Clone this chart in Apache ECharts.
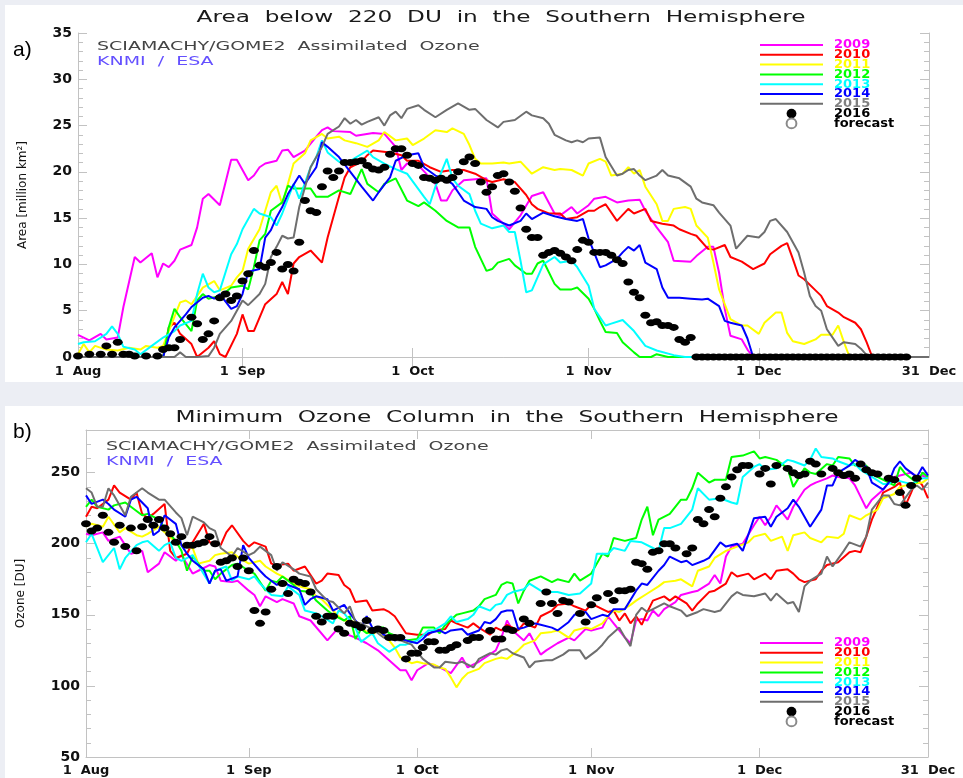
<!DOCTYPE html>
<html>
<head>
<meta charset="utf-8">
<title>Ozone hole 2016</title>
<script src="https://cdn.jsdelivr.net/npm/echarts@6/dist/echarts.min.js"></script>
<style>
html, body { margin: 0; padding: 0; background: #eceef4; }
#chart { width: 963px; height: 778px; }
</style>
</head>
<body>
<div id="chart"></div>
<script>
// x values are days counted from 1 Aug (0 = 1 Aug, 152 = 31 Dec)
var tickDays = [2, 31, 61, 92, 122, 152];
var tickLabels = ['1  Aug', '1  Sep', '1  Oct', '1  Nov', '1  Dec', '31  Dec'];
var monthTicks = [31, 61, 92, 122];
var years = ['2009', '2010', '2011', '2012', '2013', '2014', '2015'];

// a) area below 220 DU, million km2
var area2009 = [[2,2.4],[4,1.8],[6,2.5],[7,1.9],[9,2.1],[10,5.4],[12,10.8],[13,10.2],[15,11.2],[16,8.6],[17,10.1],[18,9.7],[19,10.4],[20,11.6],[22,12.1],[23,14],[24,17.1],[25,17.6],[27,16.4],[29,21.3],[30,21.3],[32,19.1],[33,19.6],[34,20.5],[35,20.9],[37,21.2],[38,22.3],[39,22.4],[40,21.6],[42,22.3],[44,23.8],[45,24.5],[46,24.8],[47,24.4],[50,24.3],[51,23.9],[54,24.2],[56,24.1],[58,22.7],[59,20.2],[60,20.9],[62,20.7],[64,19.4],[65,18.7],[66,16.9],[67,16.9],[68,18],[70,19.1],[74,19.3],[75,15.5],[77,14.4],[78,13.8],[80,15.3],[82,17.4],[84,17.8],[86,15.5],[87,15.3],[89,16.2],[90,15.5],[92,16.4],[93,17.1],[95,17.3],[97,16.7],[99,16.9],[101,17],[102,15.8],[104,14],[106,12.4],[107,10.4],[110,10.3],[111,10.9],[113,11.9],[114,11.9],[115,9.1],[116,5.2],[117,2.3],[119,1.9],[120,0.8],[121,0],[152,0]];
var area2010 = [[2,0],[17,0],[18,3.2],[19,3.7],[20,2.5],[22,1.4],[23,0],[25,1],[26,1.7],[27,0.3],[28,0],[30,2.5],[31,4.6],[32,2.8],[33,2.8],[35,5.7],[37,6.8],[38,8.1],[39,6.8],[40,10.1],[41,10.8],[43,11.5],[45,10.2],[46,12.9],[48,17.3],[49,19.4],[50,20.5],[52,21.1],[53,21.8],[54,22.3],[57,22.1],[59,21.8],[60,21.2],[62,21.2],[64,20.5],[66,20],[68,20.2],[70,20.2],[72,19.8],[74,19.1],[75,18.9],[77,19.2],[79,18.9],[81,17.5],[82,16.5],[83,16],[85,15.5],[87,15.5],[88,14.9],[90,15.1],[92,15.8],[93,15.8],[94,16.2],[95,16.5],[97,14.7],[99,16],[100,15.5],[102,16],[103,14.7],[105,14.4],[107,14.2],[108,13.8],[110,13.3],[111,13.1],[113,11.7],[114,11.6],[116,12.1],[117,10.8],[119,10.3],[120,9.9],[121,9.5],[123,10.1],[124,11.1],[126,12],[127,12.3],[128,10.6],[129,8.8],[130,8.4],[132,7.2],[133,6.6],[134,5.5],[136,4.8],[137,4.3],[139,3.7],[140,3],[141,1.6],[142,0],[152,0]];
var area2011 = [[2,0.3],[3,1.4],[4,0.5],[5,1.2],[7,0.8],[9,0.7],[11,1],[13,0.8],[14,1.2],[16,1],[17,1.2],[18,2.8],[20,5.9],[21,6.1],[22,5.7],[24,7.5],[26,8.2],[27,7.2],[29,7.7],[30,8.6],[31,9.3],[32,11.7],[34,13.8],[35,15.8],[36,17.8],[37,18.5],[38,16.5],[39,18.7],[40,20.9],[42,22],[43,23.4],[45,24.1],[46,23.6],[48,23.8],[49,23.4],[51,23.1],[53,22.7],[55,23.4],[56,24.3],[58,23.4],[60,23.6],[61,22.9],[63,23.6],[65,24.5],[67,24.3],[68,24.7],[70,24.1],[71,22.9],[72,21.4],[73,20.9],[75,20.9],[77,21],[78,20.9],[80,21.1],[82,19.8],[84,20.5],[86,20.2],[87,20.3],[89,20.2],[91,19.6],[92,20.9],[94,21.4],[95,21.1],[96,19.6],[98,19.8],[99,20.5],[100,19.8],[101,20.2],[102,18.4],[104,16.5],[105,14.7],[106,14.7],[107,16],[109,16.2],[110,16],[111,14.2],[113,12.9],[114,10.2],[115,7.3],[117,4.1],[119,3.4],[120,3.4],[122,2.5],[123,3.7],[125,4.8],[126,4.8],[127,2.6],[128,1.7],[130,1.4],[132,1.9],[133,2.4],[135,2.4],[136,3.4],[137,1.6],[138,0],[152,0]];
var area2012 = [[2,0],[17,0],[18,3.2],[19,5.2],[20,4.3],[22,2.8],[23,6.1],[24,6.8],[25,6.3],[27,6.6],[28,7],[29,7.5],[31,7.7],[32,7.3],[33,9.7],[34,12.6],[35,13.3],[36,15.8],[38,16.7],[39,18.5],[40,18.2],[42,18.2],[43,18.2],[44,17.3],[46,17.3],[48,18],[50,17.6],[52,20.3],[53,18.7],[55,17.8],[56,18.7],[58,19.3],[60,16.9],[62,16.3],[63,16.7],[65,15.8],[67,14.7],[69,14],[71,14],[72,11.9],[74,9.3],[75,9.5],[76,10.2],[78,10.6],[79,9.9],[81,9],[82,9],[83,10.1],[84,10.4],[86,7.9],[87,7.3],[89,7.3],[90,7.5],[92,6.3],[93,5.2],[94,3.9],[95,2.7],[97,2.6],[98,1.6],[100,0.5],[101,0],[103,0],[104,0.3],[106,0],[152,0]];
var area2013 = [[2,1.4],[3,1.6],[5,1.7],[7,2.5],[8,3.3],[9,2.5],[10,1.1],[12,0.8],[13,0.3],[15,1.2],[17,2.1],[19,2.8],[20,3.4],[22,3.9],[23,6.8],[24,9],[25,7.5],[26,7],[27,7.2],[29,11.1],[30,12.2],[31,13.8],[33,16],[34,15.5],[36,15.1],[37,14.2],[38,15.5],[40,18.7],[41,17.1],[43,20.5],[44,21.6],[45,23.4],[46,22.1],[48,21.1],[50,21.2],[53,22.3],[54,21.6],[56,20.9],[58,20.3],[60,19.8],[63,17.3],[64,16.5],[65,18.4],[67,21.4],[68,19.3],[69,18.5],[71,17.6],[72,15.8],[73,14.4],[75,13.9],[77,14.2],[78,13.5],[79,13.5],[80,10.4],[81,7],[82,7.2],[84,10],[86,10.8],[87,10.2],[89,10.4],[90,9.7],[92,7.7],[93,5.2],[95,3.4],[96,3.6],[98,4],[100,2.8],[102,1.2],[104,0.7],[107,0.2],[109,0],[152,0]];
var area2014 = [[2,0],[17,0],[18,2.1],[19,3.2],[21,4.6],[22,5.4],[24,6.4],[25,6.6],[26,6.3],[27,6.8],[29,5.2],[30,5.5],[31,6.8],[32,9.2],[34,9.5],[35,12.9],[36,13.7],[37,15.1],[38,16.2],[39,17.6],[41,19.6],[42,18.7],[44,20.5],[45,23.2],[46,22.7],[48,21.6],[50,20],[52,18.4],[54,16.9],[55,17.8],[57,19.4],[58,21.2],[60,21.8],[62,22],[63,20.5],[65,19.6],[67,19.1],[68,18.7],[70,16.9],[72,16.2],[74,16],[75,15.1],[76,14.7],[78,14.2],[80,14.7],[81,15.5],[82,14.9],[84,15.6],[86,15.2],[88,14.9],[90,14.7],[91,14.9],[92,12.8],[94,9.7],[95,9.9],[97,10.6],[98,11.3],[99,11.9],[100,11.5],[101,12.1],[102,10.2],[104,9.5],[105,7.5],[106,6.4],[108,6.4],[110,6.3],[112,6.2],[113,6.3],[115,5.5],[116,3.9],[117,3.7],[119,3.4],[120,2],[121,0],[152,0]];
var area2015 = [[2,0],[19,0],[20,0.5],[21,0],[23,0],[25,0.1],[26,1],[27,2.5],[29,3.9],[30,5],[31,6.1],[32,5.6],[34,6.8],[35,7.9],[36,10.8],[37,11.9],[38,13.1],[39,12.8],[40,12.9],[41,16.2],[42,18.3],[43,20.5],[45,22.7],[46,24.1],[48,24.9],[49,25.8],[50,25.2],[51,25.6],[52,25.1],[53,25.4],[55,25.9],[56,25],[57,26.1],[58,26.5],[59,25.8],[60,26.8],[62,27.2],[63,26.7],[65,25.9],[67,26.7],[69,27.4],[71,26.7],[72,26.8],[74,25.6],[76,24.8],[77,25.4],[79,25.6],[81,26.5],[82,26.1],[84,25.8],[85,25.2],[86,24],[88,23.4],[89,23.2],[90,23.4],[91,23.2],[92,23.6],[94,23.7],[95,21.6],[97,19.6],[98,19.8],[99,20.2],[100,20.3],[101,19.6],[102,19.1],[104,19.6],[105,20.2],[106,19.6],[108,19.3],[110,18.4],[111,17.1],[112,16.7],[114,16.4],[115,15.6],[117,14.2],[118,11.7],[119,12.4],[120,13.1],[122,12.9],[123,13.5],[124,14.7],[125,14.9],[127,13.5],[129,11.3],[130,9.1],[131,6.6],[132,5.5],[133,5],[134,3],[136,1.2],[137,1.6],[139,1.4],[140,0.9],[141,0.2],[142,0],[152,0]];
var area2016 = [[2,0.1],[4,0.3],[6,0.3],[7,1.2],[8,0.3],[9,1.6],[10,0.3],[11,0.3],[12,0.1],[14,0.1],[16,0.1],[17,0.8],[18,1],[19,1],[20,1.9],[22,4.3],[23,3.6],[24,1.9],[25,2.5],[26,3.9],[27,6.4],[28,6.8],[29,6.1],[30,6.6],[31,8.2],[32,9],[33,11.5],[34,9.9],[35,9.7],[36,10.2],[37,11.3],[38,9.5],[39,10],[40,9.3],[41,12.4],[42,16.9],[43,15.8],[44,15.6],[45,18.4],[46,20.1],[47,19.4],[48,20.1],[49,21],[50,21],[51,21.1],[52,21.2],[53,20.7],[54,20.3],[55,20.2],[56,20.5],[57,21.9],[58,22.5],[59,22.5],[60,21.8],[61,20.9],[62,20.7],[63,19.4],[64,19.3],[65,19.1],[66,19.3],[67,19.1],[68,19.4],[69,20],[70,21.1],[71,21.6],[72,20.9],[73,18.9],[74,17.8],[75,18.4],[76,19.6],[77,19.8],[78,18.9],[79,17.9],[80,16.1],[81,13.8],[82,12.9],[83,12.9],[84,11],[85,11.3],[86,11.5],[87,11.2],[88,10.8],[89,10.4],[90,11.6],[91,12.6],[92,12.4],[93,11.3],[94,11.3],[95,11.3],[96,11],[97,10.5],[98,10.1],[99,8.1],[100,7],[101,6.4],[102,4.5],[103,3.7],[104,3.8],[105,3.4],[106,3.4],[107,3.2],[108,1.9],[109,1.6],[110,2.1],
  [111,0],[112,0],[113,0],[114,0],[115,0],[116,0],[117,0],[118,0],[119,0],[120,0],[121,0],[122,0],[123,0],[124,0],[125,0],[126,0],[127,0],[128,0],[129,0],[130,0],[131,0],[132,0],[133,0],[134,0],[135,0],[136,0],[137,0],[138,0],[139,0],[140,0],[141,0],[142,0],[143,0],[144,0],[145,0],[146,0],[147,0],[148,0]];

// b) minimum ozone column, DU
var ozone2009 = [[2,207],[3,206],[5,208],[6,202],[8,205],[10,193],[12,195],[13,180],[15,186],[16,194],[18,188],[19,192],[21,179],[22,181],[24,185],[25,184],[26,174],[28,173],[29,174],[31,167],[32,164],[33,156],[34,163],[36,159],[37,161],[39,158],[40,149],[42,146],[45,132],[47,141],[48,137],[50,134],[52,130],[54,125],[56,118],[58,111],[59,111],[60,104],[61,111],[63,116],[65,113],[67,109],[69,120],[70,113],[72,117],[75,125],[76,134],[77,146],[78,139],[80,132],[81,137],[83,122],[84,125],[86,130],[88,134],[89,132],[91,140],[92,139],[94,141],[95,149],[96,144],[97,139],[98,134],[99,130],[100,146],[101,147],[102,146],[103,153],[104,149],[105,154],[107,159],[108,164],[110,166],[111,167],[113,172],[114,178],[115,172],[116,191],[117,198],[119,200],[121,213],[122,219],[123,213],[124,219],[125,227],[126,222],[127,217],[128,226],[130,238],[131,241],[132,243],[134,246],[135,248],[136,247],[138,246],[139,241],[140,233],[141,225],[142,231],[144,238],[145,243],[146,247],[147,248],[149,250],[150,247],[151,248],[152,246]];
var ozone2010 = [[2,219],[3,226],[4,225],[6,231],[7,241],[8,236],[10,231],[11,236],[12,221],[13,218],[14,221],[16,228],[17,195],[18,190],[20,193],[21,201],[23,214],[24,201],[26,199],[27,208],[28,213],[30,202],[31,198],[32,201],[34,198],[35,186],[36,185],[38,186],[39,181],[41,184],[43,172],[44,174],[45,179],[47,178],[48,171],[49,168],[50,159],[52,160],[53,153],[55,154],[56,152],[57,149],[58,143],[59,137],[61,136],[63,136],[64,139],[66,140],[67,146],[68,144],[70,141],[71,144],[72,141],[74,136],[75,141],[76,139],[77,143],[79,139],[80,144],[82,141],[83,149],[85,153],[86,157],[88,158],[89,156],[91,153],[92,157],[93,156],[95,152],[96,153],[97,146],[98,151],[99,144],[100,149],[101,143],[102,152],[103,160],[105,163],[106,160],[107,163],[109,158],[110,153],[111,158],[113,166],[114,167],[116,172],[117,180],[118,177],[120,179],[121,175],[123,179],[124,175],[125,181],[127,182],[128,179],[129,175],[130,173],[132,175],[133,181],[134,185],[136,187],[138,194],[139,195],[140,194],[141,205],[142,217],[143,226],[144,236],[146,240],[147,243],[148,227],[149,236],[150,246],[151,241],[152,232]];
var ozone2011 = [[2,212],[3,214],[5,212],[6,219],[8,208],[9,211],[11,206],[12,205],[13,207],[15,212],[16,208],[18,201],[19,199],[21,197],[22,186],[24,188],[25,192],[26,193],[28,194],[29,191],[31,186],[33,188],[34,184],[36,179],[37,177],[39,172],[40,170],[42,168],[43,163],[44,161],[46,153],[47,149],[48,146],[50,145],[51,141],[52,138],[53,136],[54,139],[56,132],[57,127],[58,120],[60,116],[61,117],[62,116],[64,115],[65,113],[66,112],[67,106],[68,99],[69,105],[70,109],[72,112],[73,116],[75,119],[76,120],[77,119],[79,125],[80,129],[82,132],[83,137],[85,138],[86,139],[88,134],[89,139],[91,141],[92,140],[94,144],[95,149],[96,153],[97,152],[99,157],[100,160],[102,165],[104,170],[105,173],[107,174],[108,175],[110,170],[111,181],[113,184],[114,190],[116,195],[118,198],[120,201],[121,205],[123,207],[124,202],[126,205],[127,195],[128,206],[130,208],[131,204],[133,201],[134,205],[136,204],[137,207],[138,220],[140,217],[141,220],[143,224],[144,232],[146,235],[147,240],[149,242],[151,243],[152,246]];
var ozone2012 = [[2,226],[3,231],[4,226],[6,224],[7,227],[9,229],[10,226],[12,220],[13,221],[15,217],[16,211],[18,202],[19,195],[20,181],[21,191],[23,181],[24,181],[25,175],[26,179],[28,185],[29,186],[31,181],[32,179],[34,167],[35,174],[36,173],[37,177],[39,171],[40,167],[42,166],[43,160],[45,153],[46,150],[48,146],[49,149],[50,133],[51,140],[52,137],[54,141],[55,141],[56,137],[58,134],[59,132],[61,133],[62,141],[64,141],[65,137],[66,143],[68,150],[69,151],[71,153],[72,156],[73,161],[75,164],[76,171],[77,173],[78,172],[79,158],[80,167],[81,174],[83,177],[85,173],[86,175],[88,173],[89,179],[90,174],[92,179],[94,193],[95,191],[96,204],[98,202],[100,204],[101,217],[102,226],[103,206],[104,217],[106,221],[108,231],[109,231],[110,239],[111,250],[113,243],[114,245],[116,245],[117,261],[119,262],[121,265],[122,260],[123,261],[125,259],[126,256],[127,253],[128,240],[130,253],[131,250],[132,249],[134,256],[135,255],[136,261],[138,260],[139,255],[141,255],[142,249],[143,247],[145,243],[146,241],[147,254],[148,249],[150,243],[151,250],[152,247]];
var ozone2013 = [[2,201],[3,207],[5,187],[7,197],[8,182],[9,190],[11,199],[12,201],[13,202],[15,195],[16,199],[17,201],[18,190],[19,188],[21,192],[22,185],[24,172],[25,181],[27,184],[28,174],[29,177],[31,175],[32,177],[33,172],[35,164],[37,163],[38,170],[40,164],[41,153],[43,151],[44,149],[46,144],[47,153],[48,151],[50,141],[51,131],[53,137],[54,130],[56,124],[58,129],[59,129],[61,132],[63,139],[64,139],[66,144],[67,149],[68,145],[70,147],[71,150],[72,156],[74,153],[75,157],[76,158],[77,164],[78,166],[80,168],[81,172],[83,167],[85,166],[86,166],[88,164],[90,165],[92,172],[93,193],[95,193],[96,197],[98,195],[99,202],[101,201],[103,197],[104,195],[105,211],[106,211],[108,214],[110,224],[111,239],[113,231],[115,232],[117,229],[118,228],[119,247],[121,254],[122,256],[123,252],[125,253],[127,259],[128,258],[130,255],[131,259],[132,267],[133,261],[135,260],[136,258],[138,255],[139,256],[140,252],[142,247],[144,242],[145,242],[146,245],[148,243],[149,242],[151,246],[152,246]];
var ozone2014 = [[2,234],[3,228],[5,231],[6,228],[7,224],[9,219],[10,231],[11,233],[13,225],[14,206],[15,209],[16,220],[18,214],[19,199],[20,193],[21,188],[23,182],[24,172],[25,181],[26,182],[27,174],[29,177],[30,199],[31,190],[33,181],[34,177],[36,171],[37,174],[38,171],[40,168],[41,157],[42,161],[43,163],[45,161],[46,153],[48,157],[49,151],[51,141],[52,149],[53,141],[54,140],[55,136],[57,132],[58,133],[59,132],[61,130],[62,133],[63,137],[65,139],[66,137],[67,139],[69,140],[70,136],[72,139],[73,145],[74,144],[75,147],[76,152],[77,153],[78,153],[79,140],[80,141],[82,144],[83,143],[85,141],[86,139],[88,145],[89,150],[91,152],[92,147],[94,150],[95,149],[96,154],[98,154],[100,167],[101,172],[102,171],[104,181],[105,185],[106,191],[108,187],[109,188],[110,185],[112,188],[113,190],[115,201],[116,198],[118,200],[119,195],[121,218],[123,219],[124,212],[125,219],[127,225],[128,231],[129,226],[130,219],[131,212],[133,224],[134,241],[135,241],[136,250],[138,255],[139,259],[141,254],[142,243],[144,238],[145,243],[146,253],[147,258],[148,253],[150,247],[151,254],[152,248]];
var ozone2015 = [[2,239],[3,236],[4,226],[5,226],[6,239],[7,234],[9,220],[10,233],[12,239],[13,236],[15,231],[16,231],[18,222],[19,218],[20,206],[21,219],[23,215],[24,211],[25,209],[26,197],[28,191],[29,197],[31,192],[32,194],[33,198],[35,192],[36,181],[37,187],[39,182],[40,179],[42,177],[43,168],[45,160],[46,159],[48,151],[49,156],[50,145],[51,144],[53,140],[54,137],[55,134],[56,133],[58,132],[60,129],[61,124],[62,119],[64,113],[65,113],[66,117],[68,116],[69,117],[71,113],[72,119],[74,123],[75,122],[76,125],[77,126],[78,123],[80,120],[81,113],[82,117],[84,118],[85,118],[87,122],[88,125],[90,125],[91,119],[93,125],[94,129],[95,134],[97,141],[98,134],[99,128],[100,150],[101,155],[102,152],[103,154],[105,158],[106,156],[108,153],[109,149],[111,152],[112,154],[114,152],[115,153],[117,163],[118,166],[119,164],[121,163],[123,165],[124,160],[125,165],[127,158],[128,159],[129,152],[130,170],[131,174],[133,179],[134,191],[135,184],[137,195],[138,201],[140,198],[141,205],[142,224],[144,234],[145,234],[146,228],[147,227],[149,238],[150,241],[151,238],[152,243]];
var ozone2016 = [[2,214],[3,209],[4,211],[5,220],[6,208],[7,201],[8,213],[9,198],[10,211],[11,195],[12,212],[13,217],[14,213],[15,217],[16,211],[17,207],[18,201],[19,205],[20,199],[21,199],[22,200],[23,201],[24,205],[25,200],[26,187],[27,188],[28,190],[29,184],[30,190],[31,181],[32,153],[33,144],[34,152],[35,168],[36,184],[37,172],[38,165],[39,175],[40,173],[41,172],[42,166],[43,149],[44,145],[45,149],[46,149],[47,140],[48,137],[49,144],[50,143],[51,141],[52,146],[53,139],[54,140],[55,139],[56,134],[57,134],[58,134],[59,119],[60,123],[61,123],[62,127],[63,131],[64,131],[65,125],[66,125],[67,127],[68,129],[70,132],[71,134],[72,134],[74,139],[75,133],[76,133],[77,140],[78,139],[80,147],[81,144],[83,158],[84,166],[85,158],[86,151],[87,160],[88,159],[90,151],[91,145],[92,157],[93,162],[95,165],[96,160],[97,167],[98,167],[99,168],[100,187],[101,186],[102,182],[103,194],[104,195],[105,200],[106,200],[107,197],[109,193],[110,197],[111,217],[112,214],[113,224],[114,219],[115,232],[116,240],[117,247],[118,252],[119,255],[120,255],[122,249],[123,253],[124,242],[125,255],[127,253],[128,250],[129,248],[130,249],[131,258],[132,256],[133,249],[135,253],[136,250],[137,248],[138,249],[139,246],[140,256],[141,252],[142,250],[143,249],[145,246],[146,245],[147,236],[148,227],[149,241],[150,246]];
var forecast = [];

var areaSeries = [area2009, area2010, area2011, area2012, area2013, area2014, area2015];
var ozoneSeries = [ozone2009, ozone2010, ozone2011, ozone2012, ozone2013, ozone2014, ozone2015];
var yearColors = ['#ff00ff', '#ff0000', '#ffff00', '#00ff00', '#00ffff', '#0000ff', '#6e6e6e'];
var yearTextColors = ['#ff00ff', '#ff0000', '#ffff00', '#00ff00', '#00ffff', '#0000ff', '#808080'];

var FONT = 'DejaVu Sans';
var AXIS_GRAY = '#c2c2c2';

var dom = document.getElementById('chart');
var myChart = echarts.init(dom);

function dayAxis(gridIndex, position, margin) {
    return {
        type: 'value',
        gridIndex: gridIndex,
        position: position,
        min: 2,
        max: 152,
        splitLine: {show: false},
        axisLine: {lineStyle: {color: AXIS_GRAY, width: 1}},
        axisTick: {inside: true, length: 9, customValues: monthTicks, lineStyle: {color: AXIS_GRAY}},
        axisLabel: {
            show: position === 'bottom',
            customValues: tickDays,
            margin: margin,
            color: '#111',
            fontFamily: FONT,
            fontSize: 13,
            fontWeight: 'bold',
            formatter: function (v) {
                var i = tickDays.indexOf(v);
                return i < 0 ? '' : tickLabels[i];
            }
        }
    };
}

function valueAxis(gridIndex, position, min, max, interval, name, nameGap) {
    return {
        type: 'value',
        gridIndex: gridIndex,
        position: position,
        min: min,
        max: max,
        interval: interval,
        name: position === 'left' ? name : '',
        nameLocation: 'middle',
        nameRotate: 90,
        nameGap: nameGap,
        nameTextStyle: {color: '#111', fontFamily: FONT, fontSize: 12},
        splitLine: {show: false},
        axisLine: {show: true, lineStyle: {color: AXIS_GRAY, width: 1}},
        axisTick: {show: true, inside: true, length: 9, lineStyle: {color: AXIS_GRAY}},
        minorTick: {show: true, splitNumber: 5, length: 5, lineStyle: {color: AXIS_GRAY}},
        axisLabel: {
            show: position === 'left',
            showMaxLabel: max % interval === 0,
            margin: 6,
            color: '#111',
            fontFamily: FONT,
            fontSize: 14,
            fontWeight: 'bold'
        }
    };
}

function legendFor(top) {
    var data = years.map(function (y, i) {
        return {name: y, textStyle: {color: yearTextColors[i]}};
    });
    data.push({name: '2016', itemStyle: {opacity: 1}, textStyle: {color: '#000'}});
    data.push({name: 'forecast', itemStyle: {opacity: 1}, textStyle: {color: '#000'}});
    return {
        orient: 'vertical',
        left: 759,
        top: top,
        padding: 0,
        itemGap: -3.2,
        itemWidth: 63,
        itemHeight: 9.8,
        selectedMode: false,
        itemStyle: {opacity: 0},
        textStyle: {fontFamily: FONT, fontSize: 13, fontWeight: 'bold', lineHeight: 9.8, padding: [0, 0, 0, 6]},
        data: data
    };
}

var series = [];
[[areaSeries, area2016, 0], [ozoneSeries, ozone2016, 2]].forEach(function (panel) {
    var axisIndex = panel[2];
    panel[0].forEach(function (d, i) {
        series.push({
            name: years[i],
            type: 'line',
            xAxisIndex: axisIndex,
            yAxisIndex: axisIndex,
            data: d,
            symbol: 'none',
            showSymbol: false,
            lineStyle: {color: yearColors[i], width: 2},
            itemStyle: {color: yearColors[i]},
            z: 2
        });
    });
    series.push({
        name: '2016',
        type: 'scatter',
        xAxisIndex: axisIndex,
        yAxisIndex: axisIndex,
        data: panel[1],
        symbol: 'circle',
        symbolSize: [10, 7],
        itemStyle: {color: '#000', opacity: 1},
        z: 5
    });
    series.push({
        name: 'forecast',
        type: 'scatter',
        xAxisIndex: axisIndex,
        yAxisIndex: axisIndex,
        data: forecast,
        symbol: 'emptyCircle',
        symbolSize: [10, 7],
        itemStyle: {color: '#8a8a8a', opacity: 1},
        z: 5
    });
});

// the original plot font is a wide geometric face, so the texts are stretched horizontally
function label(text, x, y, size, color, align, stretch) {
    return {
        type: 'text',
        x: x,
        y: y,
        scaleX: stretch,
        z: 10,
        style: {
            text: text,
            fill: color,
            font: size + 'px "' + FONT + '"',
            textAlign: align, align: align,
            textVerticalAlign: 'middle', verticalAlign: 'middle'
        }
    };
}

var option = {
    backgroundColor: '#eceef4',
    animation: false,
    textStyle: {fontFamily: FONT},
    grid: [
        {left: 78, right: 34, top: 33, bottom: 421},
        {left: 86, right: 35, top: 430, bottom: 21}
    ],
    xAxis: [
        dayAxis(0, 'bottom', 8),
        dayAxis(0, 'top', 8),
        dayAxis(1, 'bottom', 7),
        dayAxis(1, 'top', 7)
    ],
    yAxis: [
        valueAxis(0, 'left', 0, 35, 5, 'Area [million km\u00b2]', 49),
        valueAxis(0, 'right', 0, 35, 5, '', 0),
        valueAxis(1, 'left', 50, 280, 50, 'Ozone [DU]', 59),
        valueAxis(1, 'right', 50, 280, 50, '', 0)
    ],
    legend: [legendFor(38.5), legendFor(636.5)],
    graphic: [
        {type: 'rect', z: -10, silent: true, shape: {x: 5, y: 5, width: 958, height: 377}, style: {fill: '#ffffff'}},
        {type: 'rect', z: -10, silent: true, shape: {x: 5, y: 406, width: 958, height: 372}, style: {fill: '#ffffff'}},
        label('Area  below  220  DU  in  the  Southern  Hemisphere', 501, 18, 16, '#1a1a1a', 'center', 1.45),
        label('Minimum  Ozone  Column  in  the  Southern  Hemisphere', 507, 418, 16, '#1a1a1a', 'center', 1.45),
        label('SCIAMACHY/GOME2  Assimilated  Ozone', 97, 47, 13, '#444444', 'left', 1.46),
        label('KNMI  /  ESA', 97, 62, 13, '#6450ff', 'left', 1.46),
        label('SCIAMACHY/GOME2  Assimilated  Ozone', 106, 447, 13, '#444444', 'left', 1.46),
        label('KNMI  /  ESA', 106, 462, 13, '#6450ff', 'left', 1.46),
        {type: 'text', x: 13, y: 50, z: 10, style: {text: 'a)', fill: '#000', font: '21px "Liberation Sans"', textVerticalAlign: 'middle', verticalAlign: 'middle'}},
        {type: 'text', x: 13, y: 432, z: 10, style: {text: 'b)', fill: '#000', font: '21px "Liberation Sans"', textVerticalAlign: 'middle', verticalAlign: 'middle'}}
    ],
    series: series
};

if (option && typeof option === 'object') {
    myChart.setOption(option);
}
</script>
</body>
</html>
